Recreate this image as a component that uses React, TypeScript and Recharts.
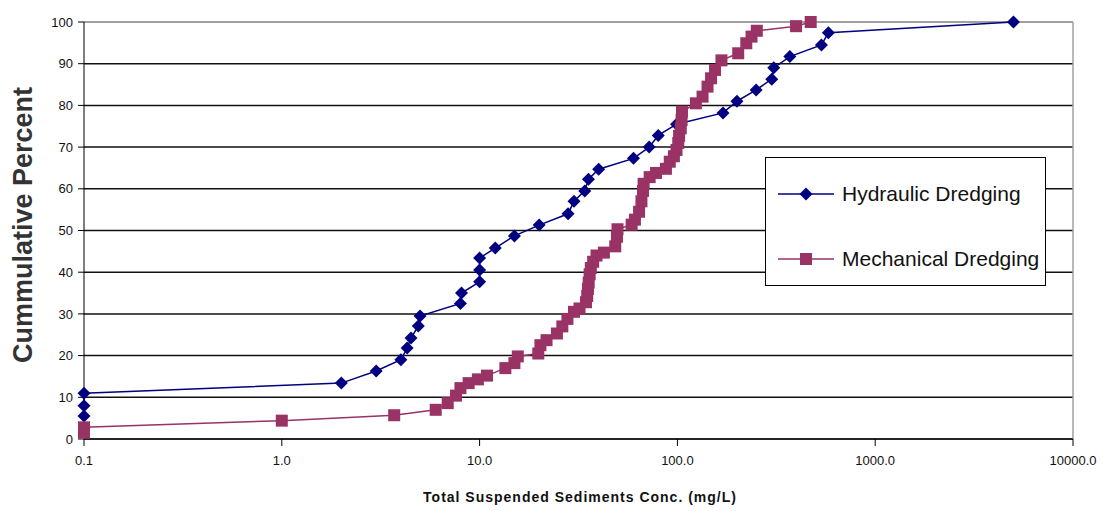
import { ScatterChart, Scatter, XAxis, YAxis, CartesianGrid, ReferenceLine } from "recharts";

const xTicks = [0.1, 1, 10, 100, 1000, 10000];
const yTicks = [0, 10, 20, 30, 40, 50, 60, 70, 80, 90, 100];

const hydraulicConc = [
  0.1, 0.1, 0.1, 2.0, 3.0, 4.0, 4.3, 4.5, 4.9, 5.0, 8.0, 8.1, 10, 10, 10, 12, 15, 20, 28, 30, 34, 35.5, 40,
  60, 72, 80, 99, 170, 200, 250, 300, 307, 370, 535, 580, 5000,
];
const hydraulicPct = [
  5.5, 8, 11, 13.4, 16.3, 19, 21.8, 24.2, 27.1, 29.5, 32.5, 35, 37.7, 40.5, 43.4, 45.8, 48.7, 51.3, 54, 57,
  59.5, 62.3, 64.7, 67.3, 70, 72.8, 75.5, 78.2, 81, 83.7, 86.3, 89, 91.7, 94.5, 97.4, 100,
];

const mechanicalConc = [
  0.1, 0.1, 1.0, 3.7, 6.0, 6.9, 7.6, 8.0, 8.8, 9.8, 10.9, 13.5, 15, 15.6, 19.8, 20.3, 21.8, 24.6, 26.2, 27.8,
  30, 32, 34.5, 35, 35.3, 35.6, 36, 36.5, 37.5, 39, 42.5, 48.5, 49.5, 49.8, 58.7, 61, 64, 65.8, 67, 67.5,
  72.4, 78, 87.5, 91.5, 96, 99, 101, 102, 104, 105, 105.5, 124, 134, 142, 148, 155, 167, 203, 223, 237, 252,
  398, 472,
];
const mechanicalPct = [
  1.5, 2.8, 4.4, 5.7, 7.0, 8.6, 10.4, 12.2, 13.4, 14.3, 15.2, 17.0, 18.2, 19.8, 20.5, 22.5, 23.7, 25.3, 27,
  28.8, 30.5, 31.3, 32.8, 34.3, 36, 37.5, 39.5, 41, 42.5, 44, 44.7, 46.2, 48.5, 50.3, 51.4, 52.6, 54.5, 57,
  59.5, 61.2, 62.8, 63.8, 64.8, 66.5, 67.8, 69.3, 71, 72.7, 74.5, 76.5, 78.5, 80.5, 82.1, 84.5, 86.5, 88.5,
  90.8, 92.5, 94.9, 96.5, 97.9, 99, 100,
];

const hydraulicData = hydraulicConc.map((x, i) => ({ x, y: hydraulicPct[i] }));
const mechanicalData = mechanicalConc.map((x, i) => ({ x, y: mechanicalPct[i] }));

const NAVY = "#000080";
const PLUM = "#993366";
const tickFont = { fill: "#111", fontSize: 13, fontFamily: "Arial, 'Liberation Sans', sans-serif" };

const Diamond = (props: any) => {
  const { cx, cy } = props;
  if (cx == null || cy == null) return null;
  const r = 6.5;
  return <polygon points={`${cx},${cy - r} ${cx + r},${cy} ${cx},${cy + r} ${cx - r},${cy}`} fill={NAVY} />;
};

const Square = (props: any) => {
  const { cx, cy } = props;
  if (cx == null || cy == null) return null;
  const r = 6;
  return <rect x={cx - r} y={cy - r} width={r * 2} height={r * 2} fill={PLUM} />;
};

const legendItems = [
  { name: "Hydraulic Dredging", color: NAVY, top: 36, diamond: true },
  { name: "Mechanical Dredging", color: PLUM, top: 101, diamond: false },
];

const LegendBox = () => (
  <div
    style={{
      position: "absolute",
      left: 765,
      top: 157,
      width: 279,
      height: 127,
      border: "1px solid #000",
      background: "#fff",
      fontFamily: "Arial, 'Liberation Sans', sans-serif",
      fontSize: 21,
      color: "#111",
    }}
  >
    {legendItems.map((e) => (
      <div key={e.name} style={{ position: "absolute", left: 12, top: e.top - 12, display: "flex", alignItems: "center", height: 24, whiteSpace: "nowrap" }}>
        <svg width={56} height={24}>
          <line x1={0} y1={12} x2={56} y2={12} stroke={e.color} strokeWidth={1.5} />
          {e.diamond ? (
            <polygon points="28,5.5 34.5,12 28,18.5 21.5,12" fill={e.color} />
          ) : (
            <rect x={22} y={6} width={12} height={12} fill={e.color} />
          )}
        </svg>
        <span style={{ marginLeft: 8 }}>{e.name}</span>
      </div>
    ))}
  </div>
);

export default function App() {
  return (
    <div style={{ position: "relative", width: 1103, height: 511, background: "#fff" }}>
      <style>{`body{margin:0}`}</style>
      <ScatterChart width={1103} height={511} margin={{ top: 22, right: 30, bottom: 32, left: 40 }}>
        <CartesianGrid vertical={false} stroke="#111" strokeWidth={1.5} />
        <XAxis
          type="number"
          dataKey="x"
          scale="log"
          domain={[0.1, 10000]}
          ticks={xTicks}
          tickFormatter={(v: number) => v.toFixed(1)}
          height={40}
          tickSize={7}
          tickMargin={10}
          stroke="#000"
          tick={tickFont}
        />
        <YAxis
          type="number"
          dataKey="y"
          domain={[0, 100]}
          ticks={yTicks}
          width={44}
          tickSize={6}
          tickMargin={5}
          stroke="#000"
          tick={tickFont}
        />
        <ReferenceLine y={100} stroke="#a0a0a0" strokeWidth={2} />
        <ReferenceLine x={10000} stroke="#a0a0a0" strokeWidth={1.5} />
        <Scatter
          name="Hydraulic Dredging"
          data={hydraulicData}
          line={{ stroke: NAVY, strokeWidth: 1.5 }}
          lineType="joint"
          shape={Diamond}
          isAnimationActive={false}
        />
        <Scatter
          name="Mechanical Dredging"
          data={mechanicalData}
          line={{ stroke: PLUM, strokeWidth: 1.5 }}
          lineType="joint"
          shape={Square}
          isAnimationActive={false}
        />
      </ScatterChart>
      <LegendBox />
      <div
        style={{
          position: "absolute",
          left: 23,
          top: 225,
          transform: "translate(-50%, -50%) rotate(-90deg)",
          whiteSpace: "nowrap",
          fontFamily: "Arial, 'Liberation Sans', sans-serif",
          fontWeight: "bold",
          fontSize: 27,
          color: "#333",
        }}
      >
        Cummulative Percent
      </div>
      <div
        style={{
          position: "absolute",
          left: 580,
          top: 497,
          transform: "translate(-50%, -50%)",
          whiteSpace: "nowrap",
          fontFamily: "Arial, 'Liberation Sans', sans-serif",
          fontWeight: "bold",
          fontSize: 14,
          letterSpacing: 1,
          color: "#111",
        }}
      >
        Total Suspended Sediments Conc. (mg/L)
      </div>
    </div>
  );
}
